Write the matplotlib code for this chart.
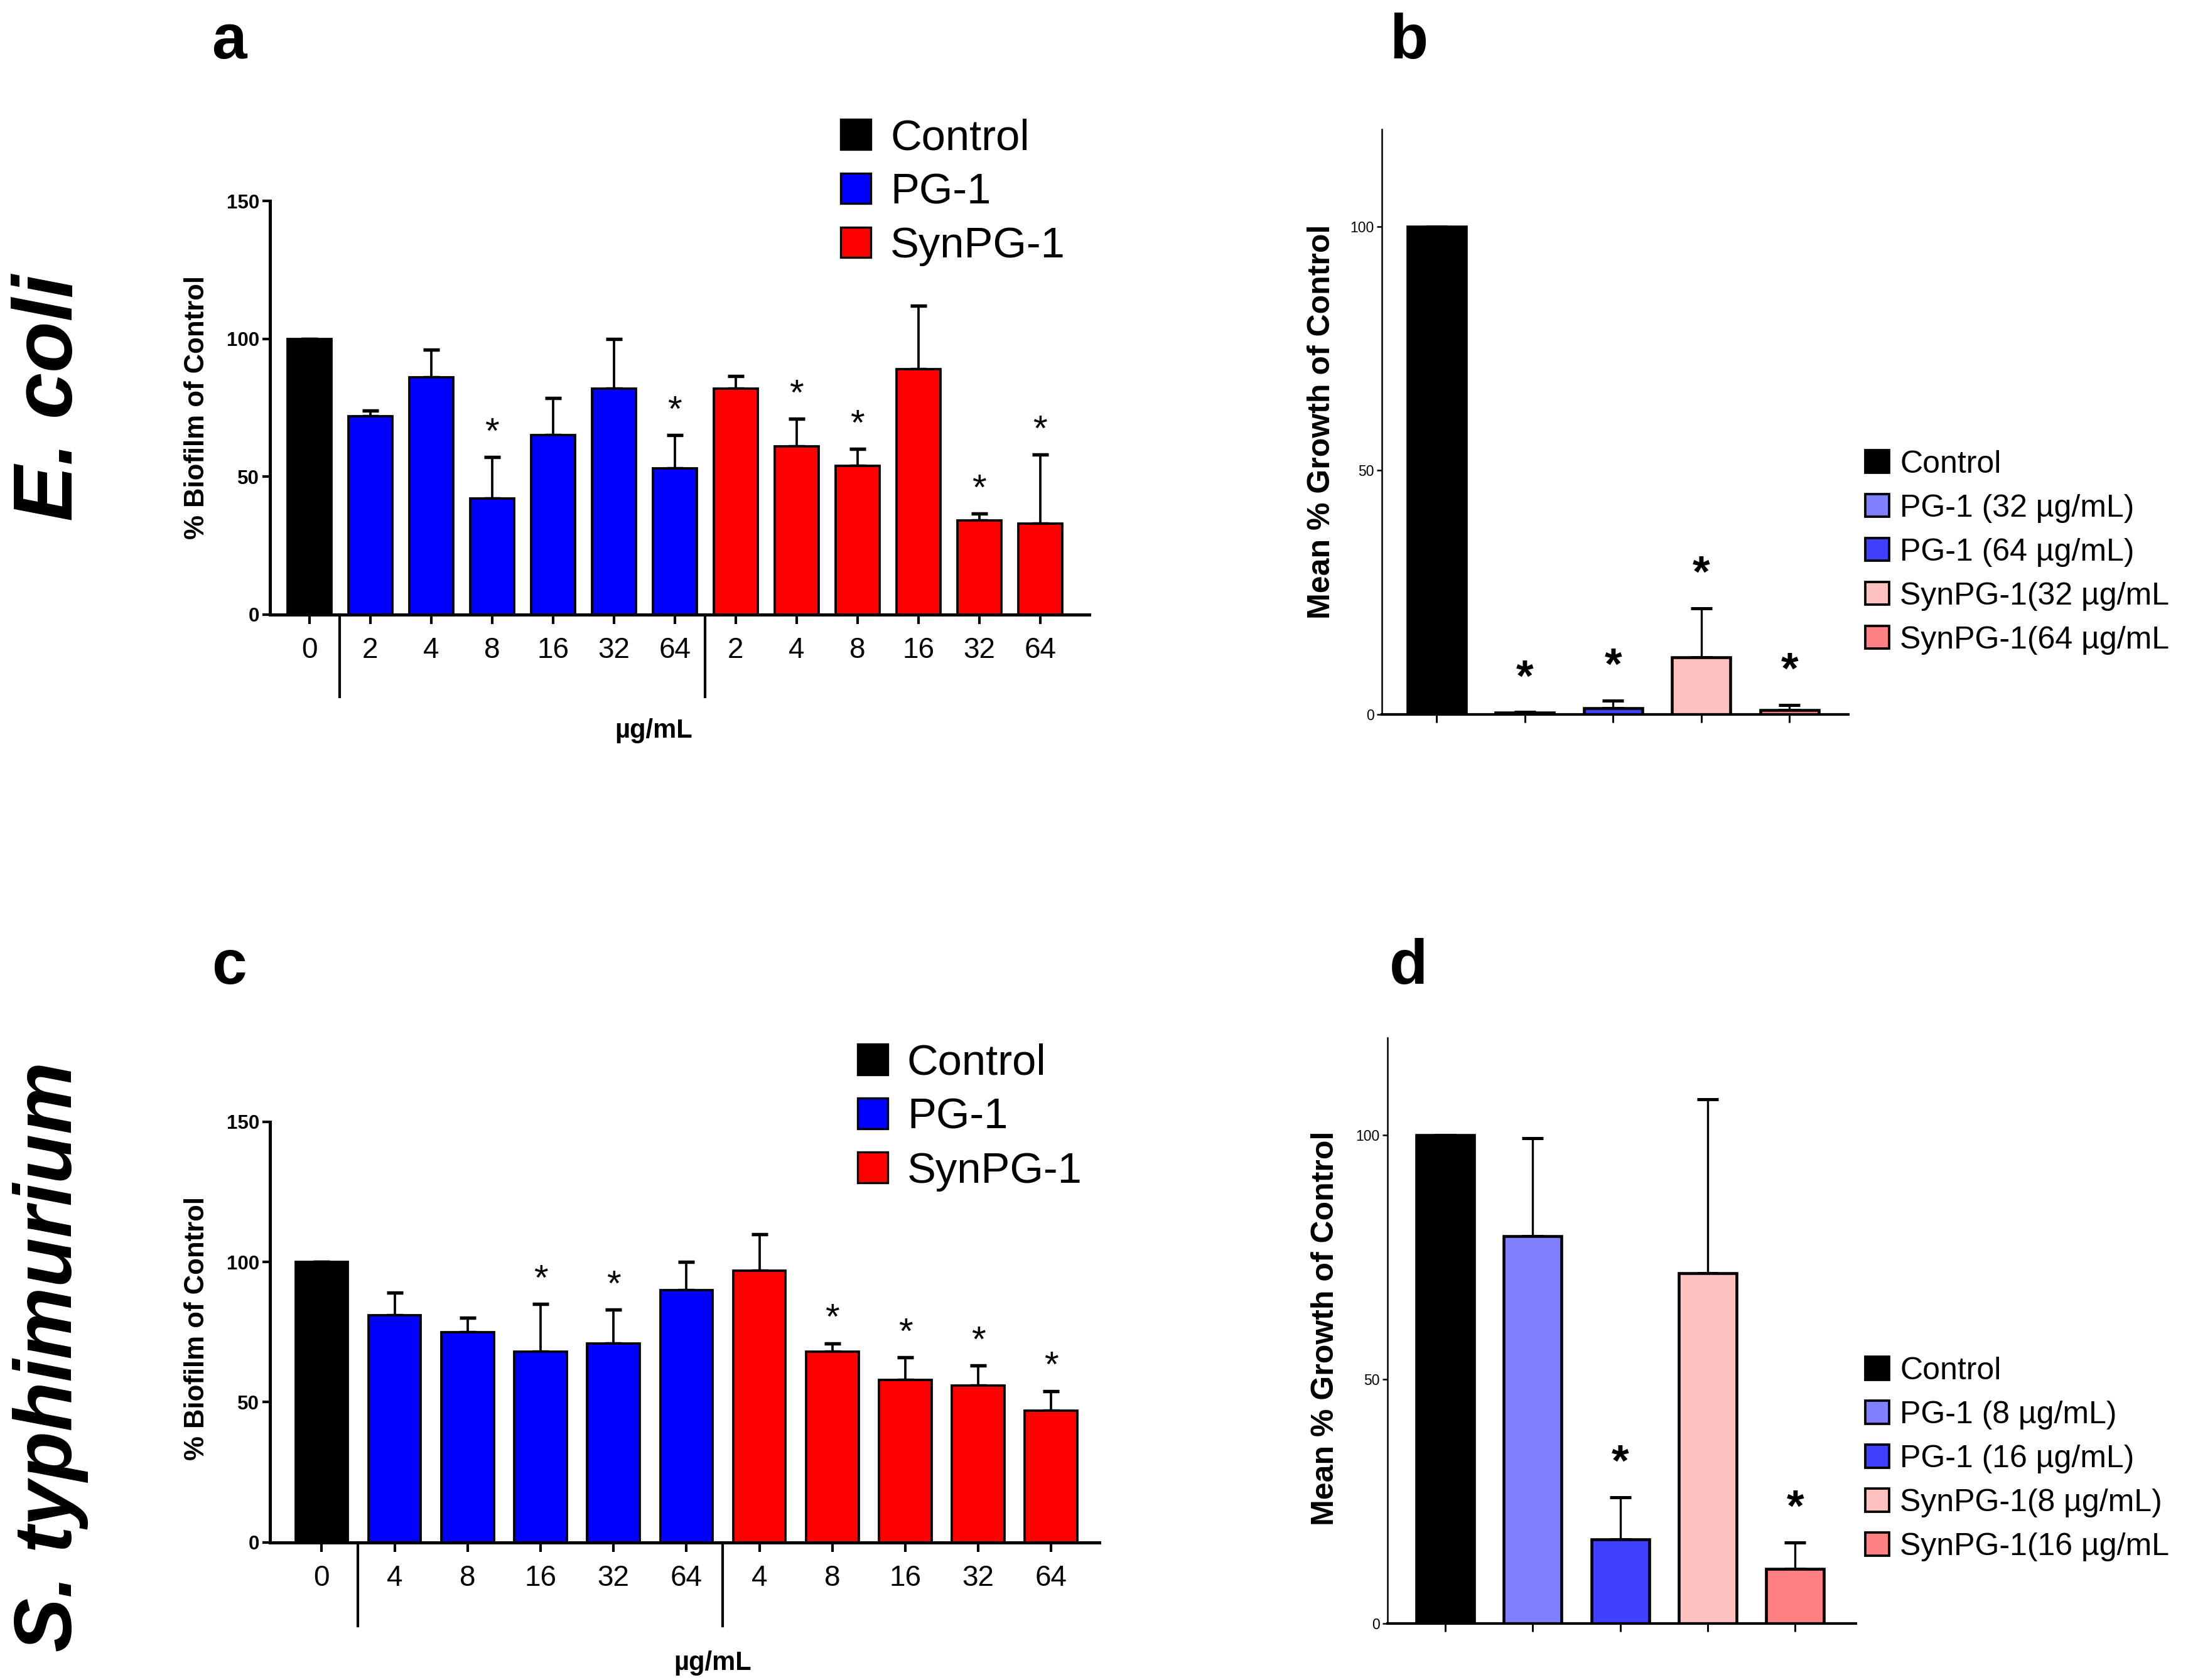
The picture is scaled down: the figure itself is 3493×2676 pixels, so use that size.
import matplotlib
matplotlib.use('Agg')
import matplotlib.pyplot as plt
import numpy as np
from matplotlib.patches import Patch
import matplotlib.transforms as mtransforms

plt.rcParams['font.family'] = ['Liberation Sans', 'DejaVu Sans']

# ---- data ----
# panel a: E. coli biofilm
a_labels = ['0', '2', '4', '8', '16', '32', '64', '2', '4', '8', '16', '32', '64']
a_mean = [100, 72, 86, 42, 65, 82, 53, 82, 61, 54, 89, 34, 33]
a_err = [0, 2, 10, 15, 13.5, 18, 12, 4.5, 10, 6, 23, 2.5, 25]
a_star = [False, False, False, True, False, False, True,
          False, True, True, False, True, True]

# panel c: S. typhimurium biofilm
c_labels = ['0', '4', '8', '16', '32', '64', '4', '8', '16', '32', '64']
c_mean = [100, 81, 75, 68, 71, 90, 97, 68, 58, 56, 47]
c_err = [0, 8, 5, 17, 12, 10, 13, 3, 8, 7, 7]
c_star = [False, False, False, True, True, False,
          False, True, True, True, True]

# panel b: E. coli growth
b_names = ['Control', 'PG-1 (32 µg/mL)', 'PG-1 (64 µg/mL)',
           'SynPG-1(32 µg/mL', 'SynPG-1(64 µg/mL']
b_mean = [100, 0.3, 1.2, 11.7, 0.8]
b_err = [0, 0.1, 1.6, 10.0, 1.1]
b_star = [False, True, True, True, True]

# panel d: S. typhimurium growth
d_names = ['Control', 'PG-1 (8 µg/mL)', 'PG-1 (16 µg/mL)',
           'SynPG-1(8 µg/mL)', 'SynPG-1(16 µg/mL']
d_mean = [100, 79.3, 17.3, 71.8, 11.2]
d_err = [0, 20.1, 8.6, 35.5, 5.4]
d_star = [False, False, True, False, True]

growth_colors = ['#000000', '#8080ff', '#4040ff', '#ffc0c0', '#ff8080']
group_names = ['Control', 'PG-1', 'SynPG-1']
group_colors = ['#000000', '#0000ff', '#ff0000']

W, H = 1560.0, 1195.0


def fx(p):
    return p / W


def fy(p):
    return 1 - p / H


def box(l, r, top, bot):
    return [fx(l), fy(bot), fx(r) - fx(l), fy(top) - fy(bot)]


fig = plt.figure(figsize=(3493 / 300, 2676 / 300), dpi=300)


def biofilm(rect, xlim, labels, mean, err, star, ylab_xy, xlab_xy, leg_xy):
    ax = fig.add_axes(rect)
    n = len(mean)
    x = np.arange(n)
    cols = ['#000000'] + ['#0000ff'] * ((n - 1) // 2) + ['#ff0000'] * ((n - 1) // 2)
    ax.errorbar(x, mean, yerr=[np.zeros(n), err], fmt='none', ecolor='black',
                elinewidth=0.9, capsize=3.2, capthick=1.3, zorder=1)
    ax.bar(x, mean, width=0.72, color=cols, edgecolor='black', linewidth=0.9,
           zorder=2)
    for xi, m, e, s in zip(x, mean, err, star):
        if s:
            ax.annotate('*', (xi, m + e), xytext=(0, 9),
                        textcoords='offset points', ha='center', va='center',
                        fontsize=14)
    ax.set_xlim(*xlim)
    ax.set_ylim(0, 150)
    ax.set_yticks([0, 50, 100, 150])
    ax.set_xticks(x)
    ax.set_xticklabels(labels, fontsize=11)
    for t in ax.get_yticklabels():
        t.set_fontsize(7.5)
        t.set_fontweight('bold')
    ax.spines['top'].set_visible(False)
    ax.spines['right'].set_visible(False)
    for sp in ['left', 'bottom']:
        ax.spines[sp].set_linewidth(1.2)
    ax.tick_params(axis='x', length=3.5, width=1.0, pad=5)
    ax.tick_params(axis='y', length=3, width=1.0, pad=1)
    trans = mtransforms.blended_transform_factory(ax.transData, ax.transAxes)
    for sx in [0.5, (n - 1) / 2 + 0.5]:
        ax.plot([sx, sx], [0, -0.2], color='black', lw=1.0,
                transform=trans, clip_on=False)
    fig.text(fx(ylab_xy[0]), fy(ylab_xy[1]), '% Biofilm of Control',
             rotation=90, ha='center', va='center', fontsize=10.5,
             fontweight='bold')
    fig.text(fx(xlab_xy[0]), fy(xlab_xy[1]), 'µg/mL', ha='center',
             va='center', fontsize=10, fontweight='bold')
    handles = [Patch(facecolor=c, edgecolor='black', linewidth=0.8)
               for c in group_colors]
    fig.legend(handles, group_names, loc='upper left',
               bbox_to_anchor=(fx(leg_xy[0]), fy(leg_xy[1])), frameon=False,
               fontsize=16.5, handlelength=0.7, handleheight=0.7,
               handletextpad=0.45, labelspacing=0.32, borderpad=0,
               borderaxespad=0)
    return ax


def growth(rect, xlim, names, mean, err, star, ylab_xy, leg_xy):
    ax = fig.add_axes(rect)
    n = len(mean)
    x = np.arange(n)
    ax.errorbar(x, mean, yerr=[np.zeros(n), err], fmt='none', ecolor='black',
                elinewidth=0.8, capsize=4, capthick=1.2, zorder=1)
    ax.bar(x, mean, width=0.66, color=growth_colors, edgecolor='black',
           linewidth=1.1, zorder=2)
    for xi, m, e, s in zip(x, mean, err, star):
        if s:
            ax.annotate('*', (xi, m + e), xytext=(0, 12.5),
                        textcoords='offset points', ha='center', va='center',
                        fontsize=17, fontweight='bold')
    ax.set_xlim(*xlim)
    ax.set_ylim(0, 120)
    ax.set_yticks([0, 50, 100])
    ax.set_xticks(x)
    ax.set_xticklabels([])
    for t in ax.get_yticklabels():
        t.set_fontsize(5.5)
    ax.spines['top'].set_visible(False)
    ax.spines['right'].set_visible(False)
    ax.spines['left'].set_linewidth(0.6)
    ax.spines['bottom'].set_linewidth(1.0)
    ax.tick_params(axis='x', length=3, width=0.7)
    ax.tick_params(axis='y', length=2, width=0.6, pad=1)
    fig.text(fx(ylab_xy[0]), fy(ylab_xy[1]), 'Mean % Growth of Control',
             rotation=90, ha='center', va='center', fontsize=12,
             fontweight='bold')
    handles = [Patch(facecolor=c, edgecolor='black', linewidth=0.9)
               for c in growth_colors]
    fig.legend(handles, names, loc='upper left',
               bbox_to_anchor=(fx(leg_xy[0]), fy(leg_xy[1])), frameon=False,
               fontsize=12, handlelength=0.75, handleheight=0.75,
               handletextpad=0.35, labelspacing=0.48, borderpad=0,
               borderaxespad=0)
    return ax


biofilm(box(192, 775, 143, 437), (-0.65, 12.81), a_labels, a_mean, a_err,
        a_star, (140, 290), (465, 520), (598, 84))
biofilm(box(192, 782, 798, 1097), (-0.71, 10.66), c_labels, c_mean, c_err,
        c_star, (140, 945), (507, 1183), (610, 742))
growth(box(983, 1315, 92, 508), (-0.62, 4.67), b_names, b_mean, b_err,
       b_star, (940, 300), (1327, 320))
growth(box(987, 1320, 738, 1155), (-0.66, 4.69), d_names, d_mean, d_err,
       d_star, (943, 945), (1327, 965))

# panel letters and species names
for lab, px, py in [('a', 163, 30), ('b', 1002, 30),
                    ('c', 163, 688), ('d', 1002, 688)]:
    fig.text(fx(px), fy(py), lab, ha='center', va='center', fontsize=24,
             fontweight='bold')
fig.text(fx(36), fy(283), 'E. coli', rotation=90, ha='center', va='center',
         fontsize=32, fontweight='bold', fontstyle='italic')
fig.text(fx(36), fy(965), 'S. typhimurium', rotation=90, ha='center',
         va='center', fontsize=31, fontweight='bold', fontstyle='italic')

fig.savefig('out.png', dpi=300)
